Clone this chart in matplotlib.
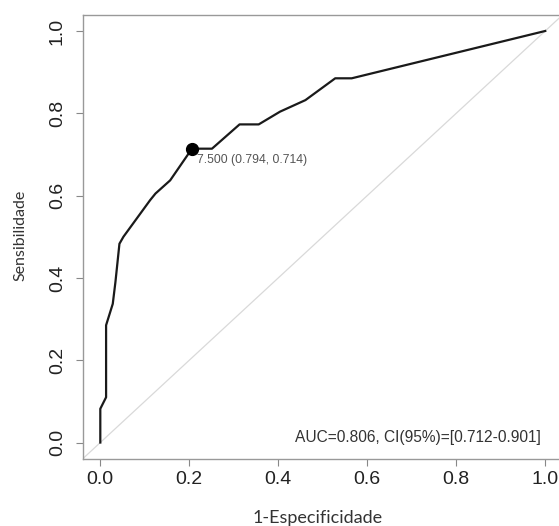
import matplotlib
matplotlib.use('Agg')
import matplotlib.pyplot as plt
import numpy as np

# ROC curve (1 - specificity, sensitivity)
fpr = [0.0, 0.0, 0.013, 0.013, 0.028, 0.034, 0.043, 0.052, 0.112, 0.124,
       0.157, 0.206, 0.251, 0.313, 0.356, 0.404, 0.461, 0.528, 0.565, 1.0]
tpr = [0.0, 0.082, 0.110, 0.285, 0.337, 0.390, 0.483, 0.500, 0.589, 0.605,
       0.637, 0.714, 0.714, 0.773, 0.773, 0.804, 0.832, 0.885, 0.885, 1.0]

best_threshold = 7.5
best_spec = 0.794
best_sens = 0.714
auc_text = 'AUC=0.806, CI(95%)=[0.712-0.901]'
ticks = [0.0, 0.2, 0.4, 0.6, 0.8, 1.0]

fig = plt.figure(figsize=(5.59, 5.26), dpi=100)
ax = fig.add_axes([0.1476, 0.1274, 0.8596, 0.845])

ax.plot([-0.04, 1.04], [-0.04, 1.04], color='#d9d9d9', lw=0.9, zorder=1)
ax.plot(fpr, tpr, color='#1a1a1a', lw=1.6, zorder=2)
ax.plot(1 - best_spec, best_sens, 'o', color='black', ms=8.5, zorder=3)
ax.text(1 - best_spec + 0.012, best_sens - 0.012,
        f'{best_threshold:.3f} ({best_spec:.3f}, {best_sens:.3f})',
        fontsize=8.8, color='#555555', ha='left', va='top',
        family='Liberation Sans')
ax.text(0.99, 0.012, auc_text, fontsize=11.2, color='#333333',
        ha='right', va='center', family='Liberation Sans')

ax.set_xlim(-0.04, 1.04)
ax.set_ylim(-0.04, 1.04)
ax.set_xticks(ticks)
ax.set_yticks(ticks)
ax.set_xticklabels([f'{t:.1f}' for t in ticks], family='Liberation Sans',
                   fontsize=14, color='#222222')
ax.set_yticklabels([f'{t:.1f}' for t in ticks], family='Liberation Sans',
                   fontsize=14, color='#222222', rotation=90, va='center')
ax.tick_params(length=5, width=0.8, color='#888888')
ax.tick_params(axis='x', pad=4)
ax.tick_params(axis='y', pad=7)
for s in ax.spines.values():
    s.set_color('#999999')
    s.set_linewidth(1.0)

fig.text(318 / 559, 1 - 518 / 526, '1-Especificidade', family='Lato',
         fontsize=13, color='#333333', ha='center', va='center')
fig.text(20 / 559, 1 - 235 / 526, 'Sensibilidade', family='Lato',
         fontsize=11.5, color='#333333', ha='center', va='center', rotation=90)

fig.savefig('out.png', dpi=100, facecolor='white')
